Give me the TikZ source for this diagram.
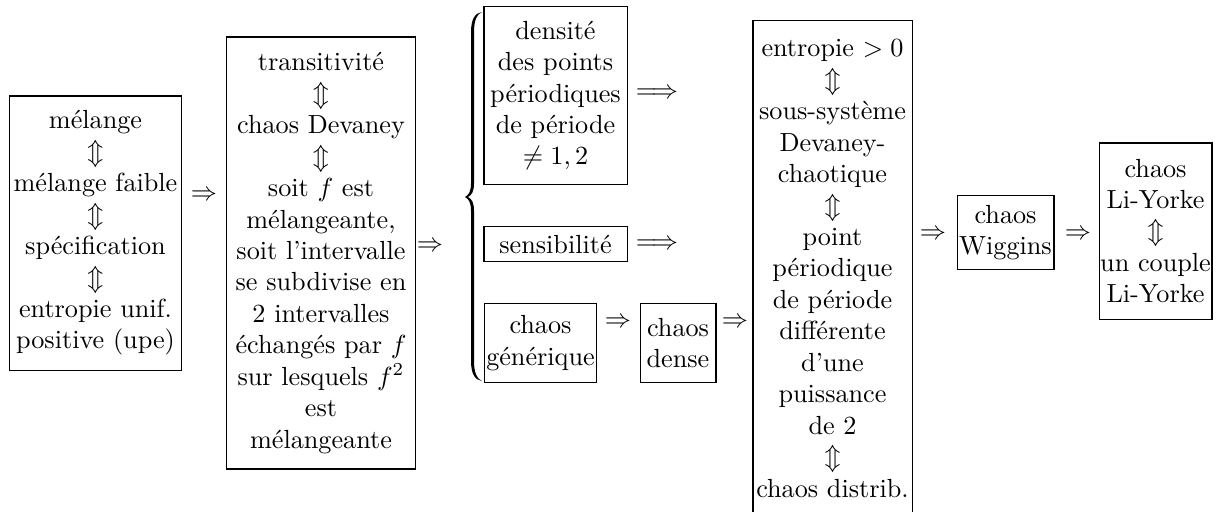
\documentclass[tikz,border=0pt]{standalone}
\usepackage{amsmath,amssymb}
\begin{document}
\begin{tikzpicture}[x=0.3817pt,y=-0.3817pt,
  box/.style={draw, line width=0.4pt, inner sep=0pt, align=center},
  imp/.style={inner sep=0pt}]
\clip (0,0) rectangle (1225,511);
% boxes
\node[box, minimum width=66.0pt, minimum height=104.6pt] (b1) at (95.5,233)
  {mélange\\$\Updownarrow$\\mélange faible\\$\Updownarrow$\\spécification\\$\Updownarrow$\\entropie unif.\\positive (upe)};
\node[box, minimum width=71.8pt, minimum height=164.9pt] (b2) at (321,253)
  {transitivité\\$\Updownarrow$\\chaos Devaney\\$\Updownarrow$\\soit $f$ est\\mélangeante,\\soit l'intervalle\\se subdivise en\\2 intervalles\\échangés par $f$\\sur lesquels $f^2$\\est\\mélangeante};
\node[box, minimum width=54.6pt, minimum height=67.6pt] (b3) at (555.5,95.5)
  {densité\\des points\\périodiques\\de période\\$\neq 1,2$};
\node[box, minimum width=54.6pt, minimum height=13.7pt] (b4) at (555.5,244)
  {sensibilité};
\node[box, minimum width=43.1pt, minimum height=30.5pt] (b5) at (540.5,343)
  {chaos\\générique};
\node[box, minimum width=29.0pt, minimum height=30.5pt] (b6) at (678,343)
  {chaos\\dense};
\node[box, minimum width=60.7pt, minimum height=189pt] (b7) at (832.5,268.5)
  {entropie $>0$\\$\Updownarrow$\\sous-système\\Devaney-\\chaotique\\$\Updownarrow$\\point\\périodique\\de période\\différente\\d'une\\puissance\\de 2\\$\Updownarrow$\\chaos distrib.};
\node[box, minimum width=37.0pt, minimum height=28.6pt] (b8) at (1005.5,232.5)
  {chaos\\Wiggins};
\node[box, minimum width=43.1pt, minimum height=67.2pt] (b9) at (1155.5,231)
  {chaos\\Li-Yorke\\$\Updownarrow$\\un couple\\Li-Yorke};
% brace
\fill (482,12) .. controls (475,13) and (471,19) .. (471,32) -- (471,183)
  .. controls (471,191) and (469,195) .. (465,197)
  .. controls (469,199) and (471,203) .. (471,211) -- (471,361)
  .. controls (471,374) and (475,380) .. (482,381)
  .. controls (477,379) and (474,373) .. (474,361) -- (474,211)
  .. controls (474,203) and (472,199) .. (468,197)
  .. controls (472,195) and (474,191) .. (474,183) -- (474,32)
  .. controls (474,20) and (477,14) .. (482,12) -- cycle;
% implication arrows
\node[imp] (a1) at (204,196) {$\Rightarrow$};
\node[imp] (a2) at (430,247) {$\Rightarrow$};
\node[imp] (a3) at (657,94) {$\Longrightarrow$};
\node[imp] (a4) at (657,245) {$\Longrightarrow$};
\node[imp] (a5) at (618,323) {$\Rightarrow$};
\node[imp] (a6) at (735,323) {$\Rightarrow$};
\node[imp] (a7) at (933,235) {$\Rightarrow$};
\node[imp] (a8) at (1078,235) {$\Rightarrow$};
\end{tikzpicture}
\end{document}
